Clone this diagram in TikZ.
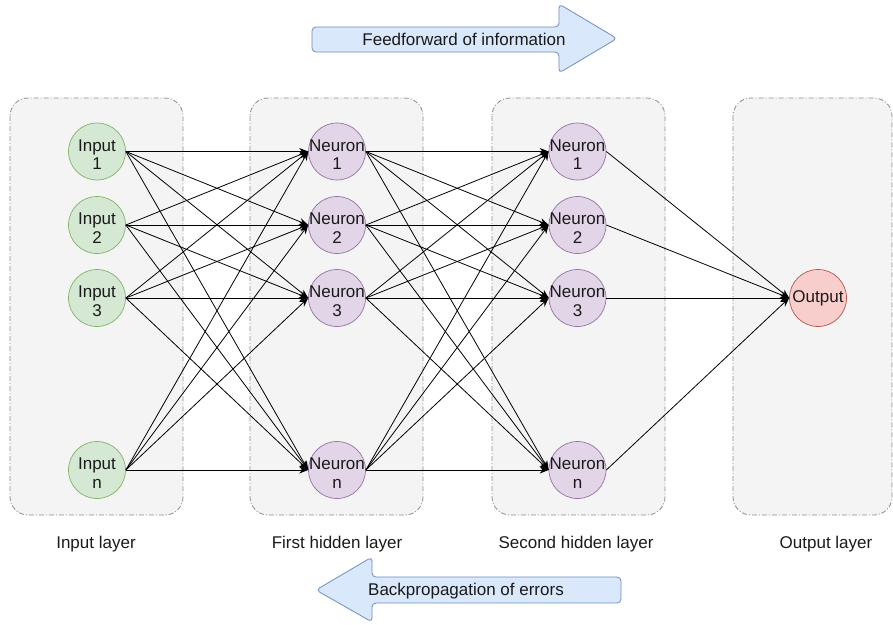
\documentclass[tikz,border=0pt]{standalone}
\usepackage{fontspec}
\setmainfont{Liberation Sans}
\usetikzlibrary{arrows.meta}
\definecolor{boxfill}{HTML}{F4F4F4}
\definecolor{boxline}{HTML}{8C8C8C}
\definecolor{infill}{HTML}{D5E8D4}
\definecolor{inline}{HTML}{82B366}
\definecolor{nfill}{HTML}{E1D5E7}
\definecolor{nline}{HTML}{9673A6}
\definecolor{ofill}{HTML}{F8CECC}
\definecolor{oline}{HTML}{B85450}
\definecolor{afill}{HTML}{DAE8FC}
\definecolor{aline}{HTML}{6C8EBF}
\definecolor{txt}{HTML}{1A1A1A}
\tikzset{
  layerbox/.style={draw=boxline, fill=boxfill, line width=0.8pt, rounded corners=18pt,
    dash pattern=on 5pt off 2pt on 1pt off 2pt},
  unit/.style={circle, minimum size=57pt, inner sep=0pt, line width=0.7pt},
  inputnode/.style={unit, draw=inline, fill=infill},
  neuronnode/.style={unit, draw=nline, fill=nfill},
  outnode/.style={unit, draw=oline, fill=ofill},
  nodetext/.style={align=center, inner sep=0pt, text=txt, yshift=-3pt,
    font=\fontsize{17}{18.5}\selectfont},
  lbl/.style={inner sep=0pt, text=txt, font=\fontsize{17}{20}\selectfont},
  edge/.style={draw=black, line width=0.8pt, -{Stealth[length=9pt,width=7pt]}},
  bigarrow/.style={draw=aline, fill=afill, line width=0.8pt, rounded corners=4pt},
}
\begin{document}
\begin{tikzpicture}[x=1pt,y=-1pt]
\useasboundingbox (0,0) rectangle (893,624);

% layer boxes
\draw[layerbox] (10,98) rectangle (183,515);
\draw[layerbox] (250,98) rectangle (423,515);
\draw[layerbox] (492,98) rectangle (665,515);
\draw[layerbox] (733,98) rectangle (892,515);

% big arrows
\draw[bigarrow] (312,27) -- (559,27) -- (559,4) -- (617,38.5) -- (559,73) -- (559,52) -- (312,52) -- cycle;
\node[lbl] (ff) at (464,39) {Feedforward of information};
\draw[bigarrow] (621,577) -- (372,577) -- (372,557) -- (316,590) -- (372,622) -- (372,603) -- (621,603) -- cycle;
\node[lbl] (bp) at (466,591) {Backpropagation of errors};

% input nodes
\node[inputnode, label={[nodetext]center:Input\\1}] (i1) at (97,151.5) {};
\node[inputnode, label={[nodetext]center:Input\\2}] (i2) at (97,225) {};
\node[inputnode, label={[nodetext]center:Input\\3}] (i3) at (97,298) {};
\node[inputnode, label={[nodetext]center:Input\\n}] (i4) at (97,470) {};

% first hidden
\node[neuronnode, label={[nodetext]center:Neuron\\1}] (a1) at (337,151.5) {};
\node[neuronnode, label={[nodetext]center:Neuron\\2}] (a2) at (337,225) {};
\node[neuronnode, label={[nodetext]center:Neuron\\3}] (a3) at (337,298) {};
\node[neuronnode, label={[nodetext]center:Neuron\\n}] (a4) at (337,470) {};

% second hidden
\node[neuronnode, label={[nodetext]center:Neuron\\1}] (b1) at (577.5,151.5) {};
\node[neuronnode, label={[nodetext]center:Neuron\\2}] (b2) at (577.5,225) {};
\node[neuronnode, label={[nodetext]center:Neuron\\3}] (b3) at (577.5,298) {};
\node[neuronnode, label={[nodetext]center:Neuron\\n}] (b4) at (577.5,470) {};

% output
\node[outnode, label={[nodetext,yshift=3pt]center:Output}] (o) at (818,298) {};

% edges
\foreach \s in {i1,i2,i3,i4}
  \foreach \t in {a1,a2,a3,a4}
    \draw[edge] (\s.east) -- (\t.west);
\foreach \s in {a1,a2,a3,a4}
  \foreach \t in {b1,b2,b3,b4}
    \draw[edge] (\s.east) -- (\t.west);
\foreach \s in {b1,b2,b3,b4}
  \draw[edge] (\s.east) -- (o.west);

% layer labels
\node[lbl] (l1) at (96,544) {Input layer};
\node[lbl] (l2) at (337,544) {First hidden layer};
\node[lbl] (l3) at (576,544) {Second hidden layer};
\node[lbl] (l4) at (826,544) {Output layer};
\end{tikzpicture}
\end{document}
